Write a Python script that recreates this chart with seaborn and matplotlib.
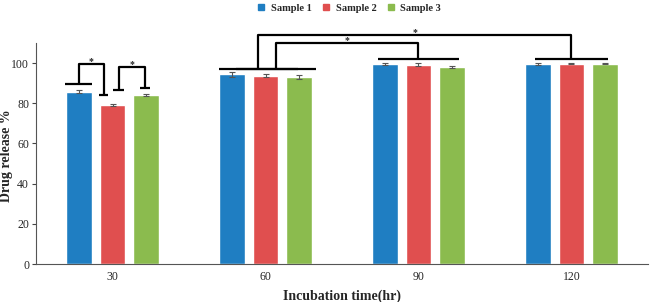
import numpy as np
import pandas as pd
import matplotlib
matplotlib.use("Agg")
import matplotlib.pyplot as plt
from matplotlib.lines import Line2D
import seaborn as sns

# ── data ──────────────────────────────────────────────
times = ["30", "60", "90", "120"]
samples = ["Sample 1", "Sample 2", "Sample 3"]
s1 = [85.8, 94.5, 99.6, 99.6]
s2 = [79.1, 93.8, 99.3, 99.7]
s3 = [84.0, 93.1, 98.0, 99.7]
s1_err = [0.9, 1.2, 0.3, 0.3]
s2_err = [0.5, 0.7, 0.6, 0.3]
s3_err = [0.5, 0.8, 0.5, 0.3]
colors = ["#1F7EC2", "#E04F4F", "#8BBB4E"]

# significance brackets (data units): levels of feet and top bar
b30_levels = [(89.4, 84.1, 99.5), (86.6, 87.4, 97.9)]
grp_levels = {"inner": (97.3, 102.0, 110.1), "outer": (97.3, 101.8, 114.0)}

df = pd.DataFrame({
    "time": np.repeat(times, 3),
    "sample": samples * 4,
    "release": np.ravel(np.column_stack([s1, s2, s3])),
})

sns.set_style("white")
plt.rcParams["font.family"] = ["Liberation Serif", "DejaVu Serif"]

fig = plt.figure(figsize=(6.5, 3.02), dpi=100)
ax = fig.add_axes([0.0554, 0.1258, 0.9415, 0.7318])

sns.barplot(data=df, x="time", y="release", hue="sample", order=times,
            hue_order=samples, palette=colors, width=0.66, gap=0.23,
            saturation=1, errorbar=None, legend=False, ax=ax)

# error bars
errs = [s1_err, s2_err, s3_err]
centers = []
for cont, err in zip(ax.containers, errs):
    xs = [b.get_x() + b.get_width() / 2 for b in cont]
    ys = [b.get_height() for b in cont]
    centers.append(xs)
    ax.errorbar(xs, ys, yerr=err, fmt="none", ecolor="#555555",
                elinewidth=0.8, capsize=2, capthick=0.8)


def bracket(x1, x2, y1, y2, top, f1, f2):
    kw = dict(color="black", lw=1.6, clip_on=False, solid_capstyle="butt")
    ax.plot([x1 - f1, x1 + f1], [y1, y1], **kw)
    ax.plot([x2 - f2, x2 + f2], [y2, y2], **kw)
    ax.plot([x1, x1, x2, x2], [y1, top, top, y2], **kw)
    ax.text((x1 + x2) / 2, top + 1.2, "*", ha="center", va="center",
            fontsize=7, fontweight="bold", clip_on=False)


# 30 h group
(a1, a2, at), (c1, c2, ct) = b30_levels
bracket(centers[0][0], centers[1][0] - 0.057, a1, a2, at, 0.088, 0.03)
bracket(centers[1][0] + 0.04, centers[2][0] - 0.008, c1, c2, ct, 0.036, 0.035)

# between groups
y1, y2, top = grp_levels["inner"]
bracket(centers[1][1] + 0.07, centers[1][2], y1, y2, top, 0.26, 0.265)
y1, y2, top = grp_levels["outer"]
bracket(centers[1][1] - 0.046, centers[1][3], y1, y2, top, 0.26, 0.24)

ax.set_xlim(-0.5, 3.5)
ax.set_ylim(0, 110)
ax.set_yticks(range(0, 101, 20))
ax.set_xticks(range(4), times)
ax.set_xticks([0.5, 1.5, 2.5, 3.5], minor=True)
ax.tick_params(axis="x", which="major", length=0, labelsize=8.5, pad=5)
ax.tick_params(axis="x", which="minor", length=3, width=0.8,
               direction="inout", color="#444444")
ax.tick_params(axis="y", length=3, width=0.8, labelsize=8.5, pad=2,
               direction="out", color="#444444", left=True)
for side in ["top", "right"]:
    ax.spines[side].set_visible(False)
for side in ["left", "bottom"]:
    ax.spines[side].set_color("#555555")
    ax.spines[side].set_linewidth(0.8)

ax.set_xlabel("Incubation time(hr)", fontsize=10, fontweight="bold",
              labelpad=5)
ax.set_ylabel("Drug release %", fontsize=10, fontweight="bold")
ax.yaxis.set_label_coords(-0.037, 0.49)

handles = [Line2D([], [], marker="s", ls="", color=c, markersize=4, label=s)
           for c, s in zip(colors, samples)]
fig.legend(handles=handles, loc="upper center", bbox_to_anchor=(0.537, 1.02),
           ncol=3, frameon=False, prop=dict(weight="bold", size=7.5),
           handletextpad=0.5, columnspacing=1.0, handlelength=0.8)

fig.savefig("out.png", dpi=100)
